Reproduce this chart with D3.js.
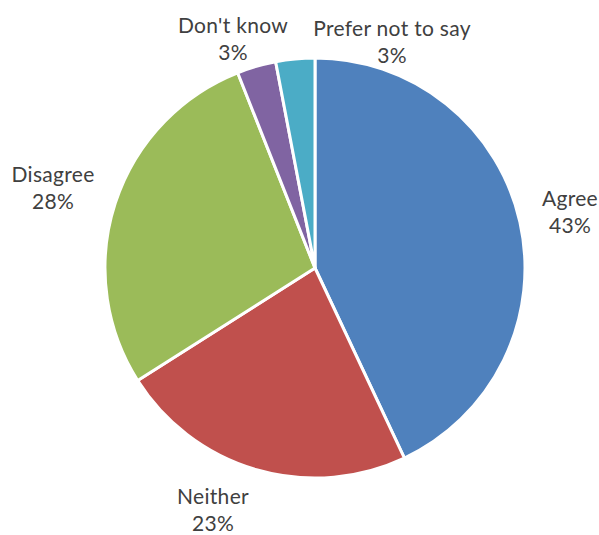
<!DOCTYPE html>
<html>
<head>
<meta charset="utf-8">
<script src="https://cdn.jsdelivr.net/npm/d3@7"></script>
<style>
  html, body { margin: 0; padding: 0; background: #fff; }
  svg { display: block; }
  text { font-family: Lato, "Open Sans", sans-serif; fill: #404040; }
</style>
</head>
<body>
<svg id="chart" width="599" height="535"></svg>
<script>
// Survey responses, in drawing order (clockwise from 12 o'clock)
const categories = ["Agree", "Neither", "Disagree", "Don't know", "Prefer not to say"];
const shares = [43, 23, 28, 3, 3];
const colors = ["#4F81BD", "#C0504D", "#9BBB59", "#8064A2", "#4BACC6"];

const width = 599, height = 535;
const cx = 315, cy = 268, radius = 210;

// Baseline of each label's first line, relative to the pie centre
const labelPos = {
  "Agree": [255, -62],
  "Neither": [-102, 236],
  "Disagree": [-262, -86],
  "Don't know": [-82, -235],
  "Prefer not to say": [77, -232]
};

const svg = d3.select("#chart");
const g = svg.append("g").attr("transform", `translate(${cx},${cy})`);

const data = categories.map((c, i) => ({ category: c, value: shares[i], color: colors[i] }));

const pie = d3.pie().value(d => d.value).sort(null);
const arc = d3.arc().innerRadius(0).outerRadius(radius);

const arcs = pie(data);

g.selectAll("path.slice")
  .data(arcs)
  .join("path")
  .attr("class", "slice")
  .attr("d", arc)
  .attr("fill", d => d.data.color)
  .attr("stroke", "#fff")
  .attr("stroke-width", 3)
  .attr("stroke-linejoin", "round");

const labels = g.selectAll("text.lbl")
  .data(arcs)
  .join("text")
  .attr("class", "lbl")
  .attr("text-anchor", "middle")
  .attr("font-size", 21)
  .attr("letter-spacing", 0.3)
  .attr("transform", d => {
    const p = labelPos[d.data.category];
    return `translate(${p[0]},${p[1]})`;
  });

labels.append("tspan")
  .attr("x", 0)
  .attr("y", 0)
  .text(d => d.data.category);

labels.append("tspan")
  .attr("x", 0)
  .attr("y", 27)
  .text(d => d3.format(".0f")(d.data.value) + "%");
</script>
</body>
</html>
